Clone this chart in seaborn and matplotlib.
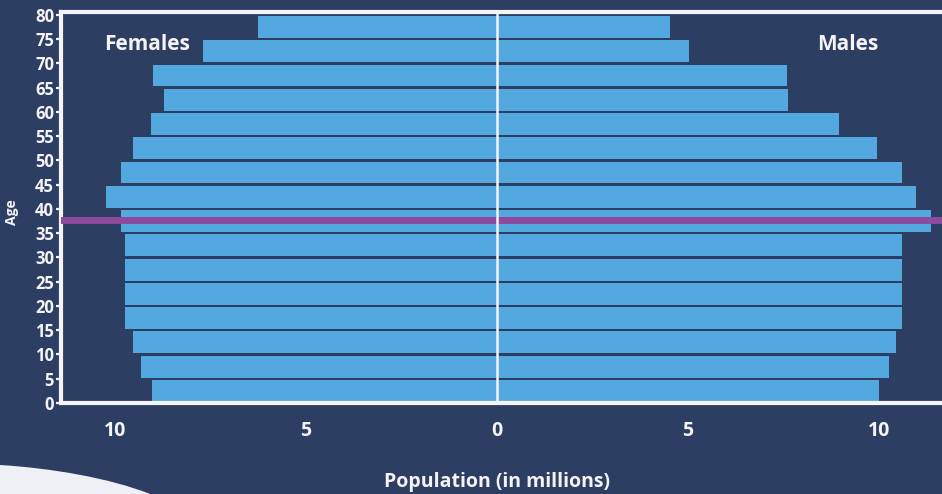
import numpy as np
import pandas as pd
import matplotlib
matplotlib.use("Agg")
import matplotlib.pyplot as plt
from matplotlib.path import Path
from matplotlib.patches import PathPatch
import seaborn as sns

# Five-year age groups (lower bound of each group)
age_groups = [0, 5, 10, 15, 20, 25, 30, 35, 40, 45, 50, 55, 60, 65, 70, 75]
# Population in millions per age group
females = [9.03, 9.32, 9.53, 9.74, 9.74, 9.74, 9.74, 9.84, 10.24, 9.84, 9.53, 9.06, 8.72, 9.01, 7.70, 6.26]
males = [10.00, 10.26, 10.45, 10.60, 10.60, 10.60, 10.60, 11.36, 10.97, 10.60, 9.95, 8.95, 7.62, 7.59, 5.03, 4.53]
median_age = 37.8
x_ticks = [-10, -5, 0, 5, 10]
x_tick_labels = ["10", "5", "0", "5", "10"]
y_ticks = list(range(0, 85, 5))

BG = "#2d3e63"
BAR = "#53a9df"
WHITE = "#f4f4f6"
PURPLE = "#8e4a9e"

sns.set_theme(style="white")
plt.rcParams["font.family"] = ["Open Sans", "DejaVu Sans"]
plt.rcParams["font.weight"] = "bold"

df = pd.DataFrame({
    "age": np.array(age_groups * 2) + 2.5,
    "population": [-v for v in females] + males,
    "sex": ["Females"] * len(females) + ["Males"] * len(males),
})

fig = plt.figure(figsize=(9.42, 4.94), dpi=100, facecolor=BG)
ax = fig.add_axes([61 / 942, 91 / 494, 881 / 942, 391 / 494])
ax.set_facecolor(BG)

sns.barplot(data=df, x="population", y="age", hue="sex", orient="y",
            native_scale=True, dodge=False, width=0.9, errorbar=None,
            palette=[BAR, BAR], saturation=1, legend=False, linewidth=0,
            ax=ax, zorder=2)

ax.axhline(median_age, color=PURPLE, lw=5, zorder=3)
ax.axvline(0, color=WHITE, lw=1.8, zorder=4)

ax.set_xlim(-11.41, 11.65)
ax.set_ylim(0, 80.6)

ax.set_xticks(x_ticks)
ax.set_xticklabels(x_tick_labels)
ax.set_yticks(y_ticks)
ax.tick_params(axis="x", length=0, pad=13, labelsize=14, labelcolor=WHITE)
ax.tick_params(axis="y", left=True, length=3.5, width=1.6, color=WHITE, pad=1.5,
               labelsize=12, labelcolor=WHITE)

for side in ["left", "bottom", "top"]:
    ax.spines[side].set_visible(True)
    ax.spines[side].set_color(WHITE)
    ax.spines[side].set_linewidth(3)
ax.spines["right"].set_visible(False)

ax.set_xlabel("Population (in millions)", fontsize=14, color=WHITE, fontweight="bold")
ax.xaxis.set_label_coords(0.495, -0.202)
ax.xaxis.label.set_va("center")
ax.set_ylabel("Age", fontsize=10, color=WHITE, fontweight="bold")
ax.yaxis.set_label_coords(-0.0556, 0.488)
ax.yaxis.label.set_va("center")

ax.text(-9.16, 74.0, "Females", color=WHITE, fontsize=15, fontweight="bold",
        ha="center", va="center", zorder=5)
ax.text(9.19, 74.0, "Males", color=WHITE, fontsize=15, fontweight="bold",
        ha="center", va="center", zorder=5)

# Light decorative swoosh in the lower-left corner
W, H = 942, 494
pts = [(0, 465), (50, 468), (110, 478), (150, 494), (0, 494), (0, 465)]
codes = [Path.MOVETO, Path.CURVE4, Path.CURVE4, Path.CURVE4, Path.LINETO, Path.CLOSEPOLY]
verts = [(x / W, 1 - y / H) for x, y in pts]
fig.patches.append(PathPatch(Path(verts, codes), transform=fig.transFigure,
                             facecolor="#eef0f5", edgecolor="none"))

fig.savefig("out.png", dpi=100, facecolor=BG)
